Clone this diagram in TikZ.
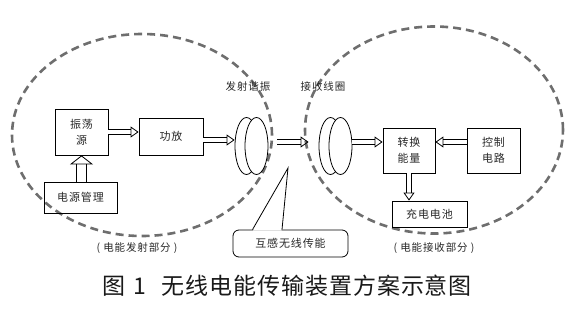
\documentclass[tikz,border=0pt]{standalone}
\usepackage{fontspec}
\setmainfont{Noto Sans CJK SC}[LetterSpace=8]
\newfontfamily\capfont{Noto Sans CJK SC}[LetterSpace=4]
\usetikzlibrary{arrows.meta, positioning, shapes.geometric}
\definecolor{RingGray}{RGB}{110,110,110}
\definecolor{TextDark}{RGB}{40,40,40}

\begin{document}
\begin{tikzpicture}[x=1pt, y=-1pt,
    box/.style={rectangle, draw=black, line width=0.8pt, text=TextDark,
                font=\fontsize{11}{16}\selectfont, align=center, inner sep=0pt},
    ring/.style={ellipse, draw=RingGray, line width=2.6pt,
                 dash pattern=on 8pt off 5pt, inner sep=0pt},
    coil/.style={ellipse, draw=black, line width=0.8pt, fill=white,
                 minimum width=23pt, minimum height=57pt, inner sep=0pt},
    hollow/.style={double, double distance=3.6pt, line width=0.8pt,
                   -{Triangle[open, length=8pt, width=11pt, line width=0.8pt]}},
    hollowwide/.style={double, double distance=9.4pt, line width=0.8pt,
                   -{Triangle[open, length=9pt, width=23pt, line width=0.8pt]}},
    tag/.style={font=\fontsize{10.5}{12}\selectfont, text=TextDark, inner sep=0pt}
  ]
  \useasboundingbox (0,0) rectangle (566,309);

  % the two dashed zones
  \node[ring, minimum width=260pt, minimum height=202pt] (txzone) at (142,135) {};
  \node[ring, minimum width=258pt, minimum height=207pt] (rxzone) at (434,130) {};

  % sending side
  \node[box, minimum width=53pt, minimum height=46pt] (osc) at (81.5,132) {振荡\\源};
  \node[box, minimum width=64pt, minimum height=37pt] (amp) at (171,136.5) {功放};
  \node[box, minimum width=73pt, minimum height=31pt] (pwr) at (80.5,197.5) {电源管理};

  % coils
  \node[coil] (txback) at (246.5,146) {};
  \node[coil] (txfront) at (256.5,146) {};
  \node[coil] (rxback) at (330.5,146) {};
  \node[coil] (rxfront) at (340.5,146) {};

  % receiving side
  \node[box, minimum width=52pt, minimum height=45pt] (conv) at (409,150.5) {转换\\能量};
  \node[box, minimum width=53pt, minimum height=45pt] (ctrl) at (493.5,150.5) {控制\\电路};
  \node[box, minimum width=75pt, minimum height=26pt] (batt) at (429.5,214) {充电电池};

  % labels
  \node[tag] (txlabel) at (248,87) {发射谐振};
  \node[tag] (rxlabel) at (323,87) {接收线圈};
  \node[tag] (txpart) at (137,248) {( 电能发射部分 )};
  \node[tag] (rxpart) at (434,248) {( 电能接收部分 )};

  % callout
  \node[box, rounded corners=6pt, minimum width=115pt, minimum height=27pt]
       (mutual) at (290.5,243.5) {互感无线传能};
  \coordinate (tip) at (288,168);
  \fill[white] ([xshift=-37.5pt,yshift=-1pt]mutual.north) -- (tip)
               -- ([xshift=-9pt,yshift=-1pt]mutual.north) -- cycle;
  \draw[line width=0.8pt] ([xshift=-38pt]mutual.north) -- (tip)
               -- ([xshift=-8.5pt]mutual.north);

  % hollow arrows
  \draw[hollow] (osc.east) -- (osc.east -| amp.west);
  \draw[hollow] ([yshift=-3.5pt]amp.east) -- ([yshift=6pt]txback.west);
  \draw[hollow] ([xshift=9pt,yshift=4pt]txfront.east) -- ([xshift=-10pt,yshift=4pt]rxback.west);
  \draw[hollow] ([yshift=4pt]rxfront.east) -- ([yshift=8.5pt]conv.west);
  \draw[hollow] ([yshift=8.5pt]ctrl.west) -- ([yshift=8.5pt]conv.east);
  \draw[hollow] (conv.south) -- (conv.south |- batt.north);
  \draw[hollowwide] (pwr.north -| osc.south) -- (osc.south);

  % caption
  \node[font=\capfont\fontsize{23}{25}\selectfont, text=black!90] (caption) at (287,286)
       {图\hspace{8pt}1\hspace{16pt}无线电能传输装置方案示意图};
\end{tikzpicture}
\end{document}
